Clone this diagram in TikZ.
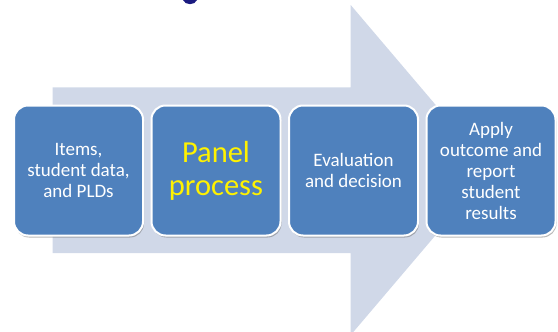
\documentclass[tikz,border=0pt]{standalone}
\usepackage{fontspec}
\setmainfont{Carlito}
\usetikzlibrary{shadows}
\definecolor{boxblue}{HTML}{4F81BD}
\definecolor{arrowblue}{HTML}{D0D8E8}
\definecolor{titleblue}{HTML}{1A1A80}
\tikzset{
  stepbox/.style={draw=white, line width=2pt, fill=boxblue, rounded corners=14pt,
    minimum width=129pt, minimum height=130pt, inner sep=2pt, align=center,
    text=white, font=\fontsize{19}{21}\selectfont,
    drop shadow={shadow xshift=1pt, shadow yshift=-2pt, opacity=0.45, fill=black!60}},
  bigarrow/.style={fill=arrowblue, draw=none}
}
\begin{document}
\begin{tikzpicture}[x=1pt,y=-1pt]
\useasboundingbox (0,0) rectangle (558,332);
% cut-off title fragment
\fill[titleblue] (183,0) .. controls (185,5.5) and (195,5.5) .. (197,0) -- cycle;
% big background arrow
\fill[bigarrow] (52.7,87.3) -- (350.7,87.3) -- (350.7,5) -- (491,170)
  -- (353.3,332) -- (350.7,332) -- (350.7,253) -- (52.7,253) -- cycle;
% boxes
\node[stepbox] (b1) at (78.5,170.5) {Items,\\ student data,\\ and PLDs};
\node[stepbox, text=yellow, font=\fontsize{30.5}{33}\selectfont] (b2) at (216,170.5) {Panel\\ process};
\node[stepbox] (b3) at (353.5,170.5) {Evaluation\\ and decision};
\node[stepbox] (b4) at (491,170.5) {Apply\\ outcome and\\ report\\ student\\ results};
\end{tikzpicture}
\end{document}
